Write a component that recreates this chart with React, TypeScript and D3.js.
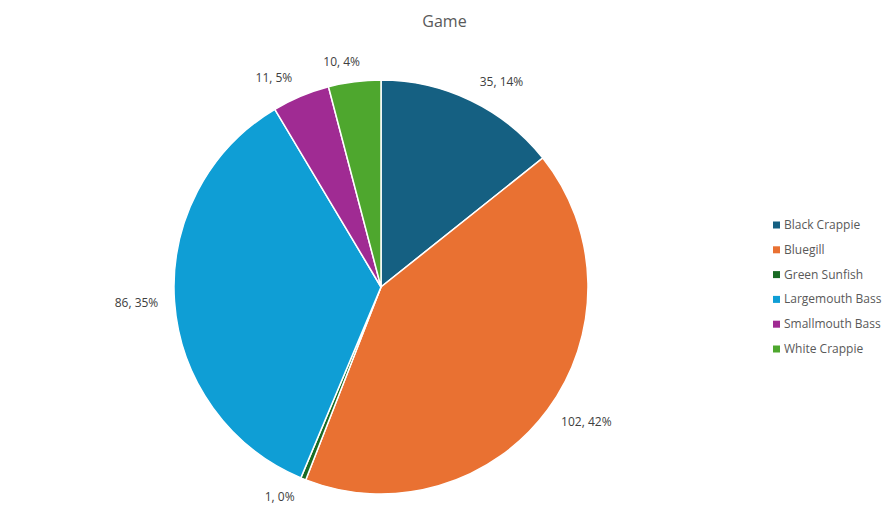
import React from 'react';
import {pie, arc, scaleOrdinal} from 'd3';

const categories = ['Black Crappie', 'Bluegill', 'Green Sunfish', 'Largemouth Bass', 'Smallmouth Bass', 'White Crappie'];
const counts = [35, 102, 1, 86, 11, 10];
const colors = ['#156082', '#E97132', '#196B24', '#0F9ED5', '#A02B93', '#4EA72E'];

const W = 889, H = 526;
const cx = 381, cy = 287, R = 207;
const FONT = "'Open Sans', 'Noto Sans', sans-serif";

// whole percentages that add up to 100 (largest remainder), like Excel does
const roundedPercents = (vals: number[]): number[] => {
    const total = vals.reduce((a, b) => a + b, 0);
    const raw = vals.map(v => v / total * 100);
    const out = raw.map(Math.floor);
    let left = 100 - out.reduce((a, b) => a + b, 0);
    const order = raw.map((r, i) => [r - Math.floor(r), i]).sort((a, b) => b[0] - a[0]);
    for (let k = 0; k < left; k++) out[order[k][1]] += 1;
    return out;
};

const App = (): JSX.Element => {
    const pct = roundedPercents(counts);
    const color = scaleOrdinal<string, string>().domain(categories).range(colors);
    const slices = pie<number>().sort(null).value(d => d)(counts);
    const slicePath = arc<any>().innerRadius(0).outerRadius(R);

    // label box just outside the rim, pushed sideways by about half its width
    const labelPos = (a: number, w: number) => {
        const s = Math.sin(a), c = Math.cos(a);
        const d = R + 13;
        const push = Math.sign(s) * (w / 2 + 3) * Math.min(1, Math.abs(s) * 4);
        return [cx + d * s + push, cy - (R + 20) * c];
    };

    return (
        <div style={{position: 'absolute', left: 0, top: 0}}>
            <svg width={W} height={H} viewBox={`0 0 ${W} ${H}`} style={{display: 'block', background: '#fff'}}>
                <text x={W / 2} y={27} textAnchor="middle" fontFamily={FONT} fontSize={16} fill="#595959">Game</text>
                <g transform={`translate(${cx},${cy})`}>
                    {slices.map((s, i) => (
                        <path key={i} d={slicePath(s) || ''} fill={color(categories[i])} stroke="#fff" strokeWidth={1.5} />
                    ))}
                </g>
                {slices.map((s, i) => {
                    const mid = (s.startAngle + s.endAngle) / 2;
                    const txt = `${counts[i]}, ${pct[i]}%`;
                    const w = txt.length * 6.3;
                    const [x, y] = labelPos(mid, w);
                    return (
                        <text key={i} x={x} y={y + 4} textAnchor="middle" fontFamily={FONT} fontSize={12} fill="#404040">{txt}</text>
                    );
                })}
                {categories.map((c, i) => (
                    <g key={c} transform={`translate(773,${225 + i * 24.8})`}>
                        <rect x={0} y={-3.5} width={7} height={7} fill={color(c)} />
                        <text x={11} y={4} fontFamily={FONT} fontSize={12} fill="#595959">{c}</text>
                    </g>
                ))}
            </svg>
        </div>
    );
};

export default App;
